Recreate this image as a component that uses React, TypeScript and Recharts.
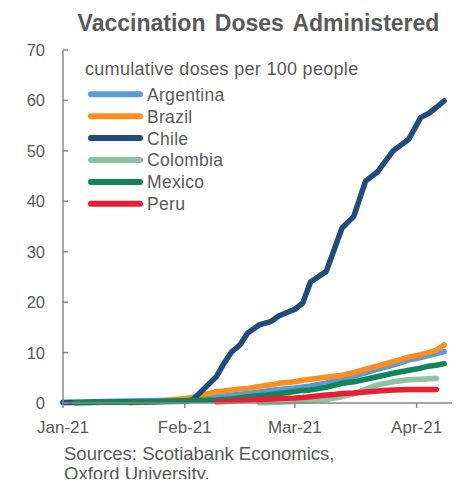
import React from 'react';
import { LineChart, Line, XAxis, YAxis, Legend } from 'recharts';

// days since Jan 1, 2021
const days = [0, 3, 10, 17, 24, 31, 33, 36, 39, 41, 43, 45, 47, 50, 53, 55, 59, 61, 63, 67, 69, 71, 74, 77, 80, 84, 88, 91, 93, 95, 97];

const argentina = [0.1, 0.15, 0.3, 0.4, 0.5, 0.6, 0.65, 0.8, 1.25, 1.4, 1.6, 1.75, 1.9, 2.2, 2.5, 2.7, 3.0, 3.2, 3.4, 4.0, 4.4, 4.7, 5.3, 6.0, 6.7, 7.5, 8.5, 9.0, 9.4, 9.8, 10.2];
const brazil = [null, null, null, 0.05, 0.3, 0.9, 1.1, 1.7, 2.25, 2.4, 2.6, 2.8, 2.9, 3.3, 3.6, 3.9, 4.2, 4.5, 4.7, 5.1, 5.3, 5.5, 6.0, 6.7, 7.3, 8.2, 9.1, 9.6, 10.0, 10.5, 11.5];
const chile = [0.1, 0.1, 0.15, 0.2, 0.25, 0.35, 0.6, 2.9, 5.2, 7.9, 10.2, 11.5, 13.9, 15.5, 16.2, 17.3, 18.6, 19.8, 24.0, 26.1, 30.4, 34.7, 37.0, 44.0, 45.8, 50.0, 52.3, 56.6, 57.4, 58.6, 59.9];
const colombia = [null, null, null, null, null, null, null, null, null, null, null, null, null, 0.05, 0.1, 0.15, 0.3, 0.35, 0.4, 0.7, 1.0, 1.25, 1.8, 2.7, 3.6, 4.2, 4.6, 4.7, 4.8, 4.9, null];
const mexico = [null, 0.05, 0.15, 0.2, 0.3, 0.45, 0.5, 0.55, 0.6, 0.7, 0.8, 1.0, 1.25, 1.45, 1.7, 1.9, 2.3, 2.5, 2.6, 3.1, 3.5, 3.9, 4.2, 4.7, 5.2, 5.9, 6.5, 6.9, 7.3, 7.5, 7.8];
const peru = [null, null, null, null, null, null, null, null, 0.25, 0.3, 0.4, 0.5, 0.6, 0.7, 0.8, 0.9, 1.0, 1.1, 1.25, 1.6, 1.7, 1.9, 2.0, 2.2, 2.4, 2.6, 2.7, 2.7, 2.7, 2.7, null];

const monthTicks = [0, 31, 59, 90];
const monthLabels = ['Jan-21', 'Feb-21', 'Mar-21', 'Apr-21'];
const yTicks = [0, 10, 20, 30, 40, 50, 60, 70];
// labels of the neighbouring chart, cut off at the left edge
const cutLabels = ['90', '80', '70', '60', '50', '40', '30', '20', '10'];

const series = [
  { key: 'argentina', name: 'Argentina', color: '#5B9BD5', values: argentina },
  { key: 'brazil', name: 'Brazil', color: '#FF8C1F', values: brazil },
  { key: 'chile', name: 'Chile', color: '#1F4B7E', values: chile },
  { key: 'colombia', name: 'Colombia', color: '#8CC3A1', values: colombia },
  { key: 'mexico', name: 'Mexico', color: '#108558', values: mexico },
  { key: 'peru', name: 'Peru', color: '#E91E35', values: peru },
];

const data = days.map((day, i) => {
  const row: Record<string, number | null> = { day };
  series.forEach((s) => {
    row[s.key] = s.values[i];
  });
  return row;
});

const FONT = '"Liberation Sans", Arial, sans-serif';
const TEXT = '#595959';
const AXIS = '#898989';

const YTick = (props: any) => {
  const { x, y, payload } = props;
  return (
    <g>
      <line x1={x} x2={x + 5} y1={y} y2={y} stroke={AXIS} strokeWidth={1.5} />
      <text x={x - 18} y={y} dy="0.36em" textAnchor="end" fontSize={16.5} fill={TEXT} fontFamily={FONT}>
        {payload.value}
      </text>
    </g>
  );
};

const renderLegend = (props: any) => {
  const { payload } = props;
  return (
    <svg width={320} height={170} style={{ display: 'block', overflow: 'visible' }}>
      <text x={5} y={25} fontSize={18} letterSpacing={0.3} fill={TEXT} fontFamily={FONT}>
        cumulative doses per 100 people
      </text>
      {(payload || []).map((entry: any, i: number) => (
        <g key={entry.value}>
          <line
            x1={11}
            x2={60}
            y1={44.3 + i * 21.9}
            y2={44.3 + i * 21.9}
            stroke={entry.color}
            strokeWidth={6}
            strokeLinecap="round"
          />
          <text x={67} y={50.7 + i * 21.9} fontSize={17.5} letterSpacing={0.3} fill={TEXT} fontFamily={FONT}>
            {entry.value}
          </text>
        </g>
      ))}
    </svg>
  );
};

export default function App() {
  return (
    <div style={{ position: 'relative', width: 471, height: 487, margin: -8 }}>
      <LineChart width={471} height={487} data={data} margin={{ top: 50, right: 19, bottom: 54, left: 23 }}>
        <XAxis
          type="number"
          dataKey="day"
          domain={[0, 99]}
          ticks={monthTicks}
          interval={0}
          tickFormatter={(v: number) => monthLabels[monthTicks.indexOf(v)]}
          height={30}
          tickSize={5}
          tickMargin={13}
          stroke={AXIS}
          axisLine={{ stroke: AXIS, strokeWidth: 1.5 }}
          tickLine={{ stroke: AXIS, strokeWidth: 1.5 }}
          tick={{ fill: TEXT, fontSize: 17, fontFamily: FONT }}
        />
        <YAxis
          type="number"
          domain={[0, 70]}
          ticks={yTicks}
          interval={0}
          width={40}
          tickSize={0}
          tickMargin={0}
          tickLine={false}
          axisLine={{ stroke: AXIS, strokeWidth: 1.5 }}
          tick={YTick}
        />
        <Legend
          layout="vertical"
          align="center"
          verticalAlign="middle"
          content={renderLegend}
          wrapperStyle={{ left: 80, top: 50, width: 320, height: 170 }}
        />
        {series.map((s) => (
          <Line
            key={s.key}
            type="linear"
            dataKey={s.key}
            name={s.name}
            stroke={s.color}
            strokeWidth={5.5}
            strokeLinecap="round"
            strokeLinejoin="round"
            dot={false}
            activeDot={false}
            isAnimationActive={false}
          />
        ))}
      </LineChart>
      <svg
        width={471}
        height={487}
        style={{ position: 'absolute', left: 0, top: 0, pointerEvents: 'none' }}
      >
        <text x={258.5} y={31} textAnchor="middle" fontSize={23} fontWeight="bold" wordSpacing={3} fill={TEXT} fontFamily={FONT}>
          Vaccination Doses Administered
        </text>
        {cutLabels.map((label, i) => (
          <text key={i} x={6} y={81.7 + i * 28.1} dy="0.36em" textAnchor="end" fontSize={16.5} fill={TEXT} fontFamily={FONT}>
            {label}
          </text>
        ))}
        <text x={64} y={460} fontSize={18.5} fill={TEXT} fontFamily={FONT}>
          Sources: Scotiabank Economics,
        </text>
        <text x={64} y={480} fontSize={18.5} fill={TEXT} fontFamily={FONT}>
          Oxford University.
        </text>
      </svg>
    </div>
  );
}
